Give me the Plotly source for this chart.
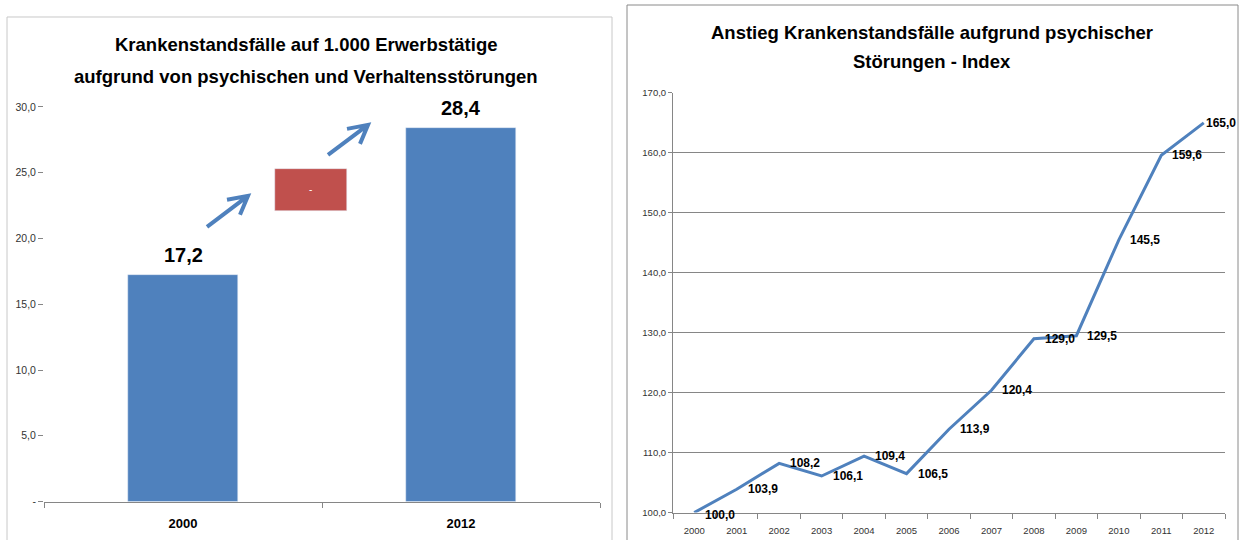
import plotly.graph_objects as go

# ---------------- data ----------------
bar_categories = ["2000", "2012"]
bar_values = [17.2, 28.4]
left_y_tickvals = [0, 5, 10, 15, 20, 25, 30]
left_y_ticktext = ["-", "5,0", "10,0", "15,0", "20,0", "25,0", "30,0"]

# decorative red box (floating bar): base and height in axis units
red_box_base = [22.1]
red_box_height = [3.2]
red_box_label = ["-"]

years = ["2000", "2001", "2002", "2003", "2004", "2005", "2006",
         "2007", "2008", "2009", "2010", "2011", "2012"]
index_values = [100.0, 103.9, 108.2, 106.1, 109.4, 106.5, 113.9,
                120.4, 129.0, 129.5, 145.5, 159.6, 165.0]
right_y_tickvals = [100, 110, 120, 130, 140, 150, 160, 170]
right_y_ticktext = ["100,0", "110,0", "120,0", "130,0", "140,0", "150,0", "160,0", "170,0"]

left_title = ["Krankenstandsfälle auf 1.000 Erwerbstätige",
              "aufgrund von psychischen und Verhaltensstörungen"]
right_title = ["Anstieg Krankenstandsfälle aufgrund psychischer",
               "Störungen - Index"]

# ---------------- layout helpers ----------------
W, H = 1244, 540
FONT = "Liberation Sans, Arial, sans-serif"
BLUE = "#4f81bd"
RED = "#c0504d"
GRID = "#868686"

# vertical calibration of the rendered page (pixel -> paper)
Y_OFF, Y_SCALE = 6.0, 0.9786


def px(x):
    return x / W


def py(y):
    return 1 - (y - Y_OFF) / (Y_SCALE * H)


def fmt(v):
    return f"{v:.1f}".replace(".", ",")


fig = go.Figure()

# left bar chart
fig.add_trace(go.Bar(
    x=bar_categories, y=bar_values, marker_color=BLUE, width=0.395,
    xaxis="x", yaxis="y", showlegend=False, hoverinfo="skip",
))
# floating red box on an overlay numeric axis
fig.add_trace(go.Bar(
    x=[0.46], y=red_box_height, base=red_box_base, width=0.26,
    marker_color=RED, text=red_box_label, textposition="inside",
    insidetextanchor="middle",
    textfont=dict(color="white", size=10, family=FONT),
    xaxis="x3", yaxis="y", showlegend=False, hoverinfo="skip",
))

# right line chart
fig.add_trace(go.Scatter(
    x=years, y=index_values, mode="lines",
    line=dict(color=BLUE, width=3),
    xaxis="x2", yaxis="y2", showlegend=False, hoverinfo="skip",
))

annotations = []
# bar value labels (category index positions)
for i, v in enumerate(bar_values):
    annotations.append(dict(
        x=i, y=v, xref="x", yref="y", text=fmt(v), showarrow=False,
        yanchor="bottom", yshift=7,
        font=dict(family=FONT, size=20, color="black", weight="bold"),
    ))
# line value labels
for i, v in enumerate(index_values):
    annotations.append(dict(
        x=i, y=v, xref="x2", yref="y2", text=fmt(v), showarrow=False,
        xanchor="left", yanchor="middle",
        xshift=0 if i == len(index_values) - 1 else 9,
        yshift=-2 if i == 0 else 0,
        font=dict(family=FONT, size=12, color="black", weight="bold"),
    ))
# titles
title_font = dict(family=FONT, size=18.5, color="black", weight="bold")
for line, yy in zip(left_title, [45, 77]):
    annotations.append(dict(x=px(306), y=py(yy), xref="paper", yref="paper",
                            text=line, showarrow=False, xanchor="center",
                            yanchor="middle", font=title_font))
for line, yy in zip(right_title, [33, 62]):
    annotations.append(dict(x=px(932), y=py(yy), xref="paper", yref="paper",
                            text=line, showarrow=False, xanchor="center",
                            yanchor="middle", font=title_font))

shapes = [
    # panel borders
    dict(type="rect", xref="paper", yref="paper", x0=px(7), x1=px(612),
         y0=py(600), y1=py(17), line=dict(color="#c8c8c8", width=1),
         fillcolor="rgba(0,0,0,0)", layer="below"),
    dict(type="rect", xref="paper", yref="paper", x0=px(627), x1=px(1238),
         y0=py(600), y1=py(5), line=dict(color="#8a8a8a", width=1),
         fillcolor="rgba(0,0,0,0)", layer="below"),
]


def arrow_path(tail, head, w1, w2):
    return (f"M {px(tail[0])},{py(tail[1])} L {px(head[0])},{py(head[1])} "
            f"M {px(w1[0])},{py(w1[1])} L {px(head[0])},{py(head[1])} "
            f"L {px(w2[0])},{py(w2[1])}")


for tail, head in [((207, 227), (248, 196)), ((328, 155), (368, 125))]:
    w1 = (head[0] - 21, head[1] + 4)
    w2 = (head[0] - 8, head[1] + 19)
    shapes.append(dict(type="path", xref="paper", yref="paper",
                       path=arrow_path(tail, head, w1, w2),
                       line=dict(color=BLUE, width=4)))

tick_font_l = dict(family=FONT, size=10.5, color="#333333")
tick_font_r = dict(family=FONT, size=9.5, color="#333333")

fig.update_layout(
    width=W, height=H,
    margin=dict(l=0, r=0, t=0, b=0),
    paper_bgcolor="white", plot_bgcolor="white",
    bargap=0, showlegend=False,
    annotations=annotations, shapes=shapes,
    xaxis=dict(domain=[px(44), px(600)], type="category",
               range=[-0.5, 1.5], anchor="y",
               showline=True, linecolor=GRID, linewidth=1,
               ticks="outside", tickson="boundaries", ticklen=5, tickcolor=GRID,
               ticklabelstandoff=10,
               showgrid=False, zeroline=False,
               tickfont=dict(family=FONT, size=13, color="black", weight="bold")),
    xaxis3=dict(overlaying="x", anchor="y", range=[-0.5, 1.5], visible=False,
                type="linear"),
    yaxis=dict(domain=[py(502), py(107)], range=[0, 30], anchor="x",
               tickvals=left_y_tickvals, ticktext=left_y_ticktext,
               showline=False, showgrid=False, zeroline=False,
               ticks="outside", ticklen=5, tickcolor=GRID,
               tickfont=tick_font_l),
    xaxis2=dict(domain=[px(673), px(1225)], type="category",
                range=[-0.5, 12.5], anchor="y2",
                showline=True, linecolor=GRID, linewidth=1,
                ticks="outside", tickson="boundaries", ticklen=5, tickcolor=GRID,
                ticklabelstandoff=9,
                showgrid=False, zeroline=False, tickfont=tick_font_r),
    yaxis2=dict(domain=[py(513), py(93)], range=[100, 170], anchor="x2",
                tickvals=right_y_tickvals, ticktext=right_y_ticktext,
                showline=True, linecolor=GRID, linewidth=1,
                showgrid=True, gridcolor=GRID, gridwidth=1, zeroline=False,
                ticks="outside", ticklen=4, tickcolor=GRID,
                tickfont=tick_font_r),
)

fig.write_html(
    "out.html",
    config={"displayModeBar": False},
    post_script="document.body.style.margin='0';document.body.style.overflow='hidden';",
)
